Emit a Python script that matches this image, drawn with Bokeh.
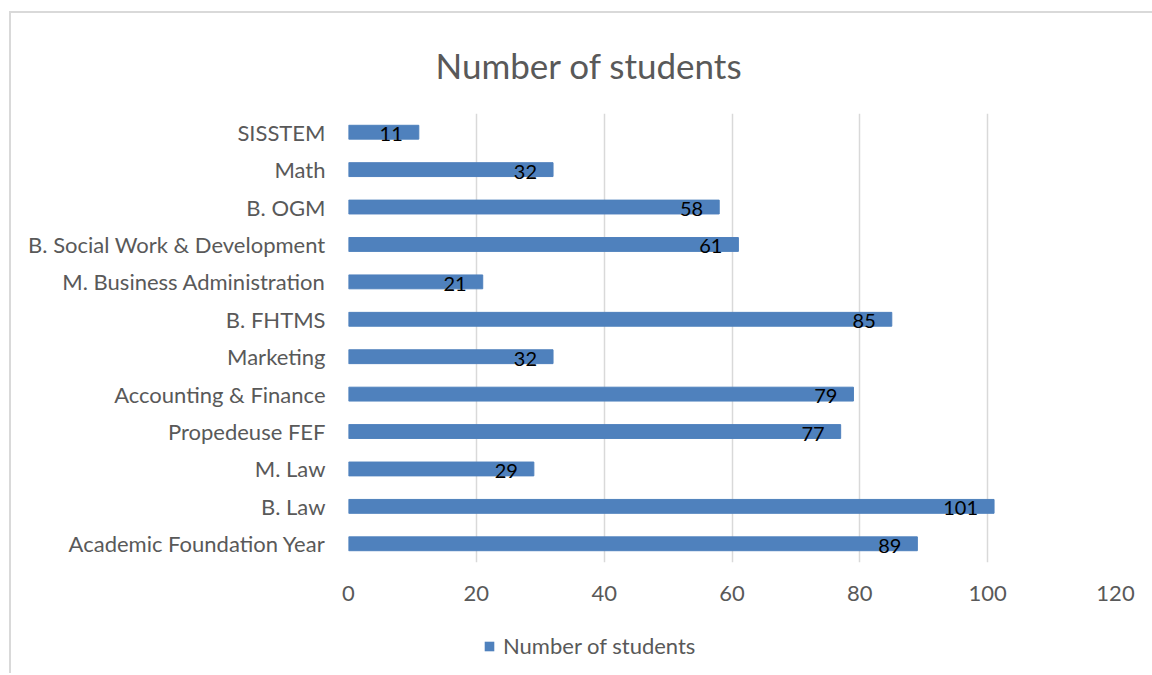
from bokeh.plotting import figure
from bokeh.layouts import column
from bokeh.models import ColumnDataSource, FactorRange, LabelSet, Legend, LegendItem, Range1d
from bokeh.core.properties import value
from bokeh.embed import file_html
from bokeh.resources import INLINE

categories = ["Academic Foundation Year", "B. Law", "M. Law", "Propedeuse FEF",
              "Accounting & Finance", "Marketing", "B. FHTMS", "M. Business Administration",
              "B. Social Work & Development", "B. OGM", "Math", "SISSTEM"]
students = [89, 101, 29, 77, 79, 32, 85, 21, 61, 58, 32, 11]
x_ticks = [0, 20, 40, 60, 80, 100, 120]
series_name = "Number of students"

FONT = "Lato"
GRAY = "#595959"
BLUE = "#4F81BD"

src = ColumnDataSource(dict(cat=categories, val=students, lab=[str(v) for v in students]))

p = figure(width=1141, height=610, y_range=FactorRange(*categories), x_range=Range1d(0, 120),
           output_backend="svg", toolbar_location=None,
           min_border_left=337, min_border_right=37, min_border_top=99, min_border_bottom=61)
p.outline_line_color = None

p.title.text = series_name
p.title.text_font = FONT
p.title.text_font_size = "35px"
p.title.text_font_style = "normal"
p.title.text_color = GRAY
p.title.align = "left"
p.title.offset = 87
p.title.standoff = 56

r = p.hbar(y="cat", right="val", height=0.37, left=0, source=src, color=BLUE)

labels = LabelSet(x="val", y="cat", text="lab", source=src, x_offset=-16, y_offset=-2,
                  text_align="right", text_baseline="middle", text_font=value(FONT),
                  text_font_size="20px", text_color="black")
p.add_layout(labels)

p.xaxis.ticker = x_ticks
p.xaxis.axis_line_color = None
p.xaxis.major_tick_line_color = None
p.xaxis.minor_tick_line_color = None
p.xaxis.major_label_standoff = 17
p.xaxis.major_label_text_font = FONT
p.xaxis.major_label_text_font_size = "22px"
p.xaxis.major_label_text_color = GRAY

p.yaxis.axis_line_color = None
p.yaxis.major_tick_line_color = None
p.yaxis.minor_tick_line_color = None
p.yaxis.major_label_standoff = 17
p.yaxis.major_label_text_font = FONT
p.yaxis.major_label_text_font_size = "22px"
p.yaxis.major_label_text_color = GRAY

p.xgrid.grid_line_color = "#d9d9d9"
p.xgrid.grid_line_width = 1.5
p.ygrid.grid_line_color = None

# legend strip below the chart (its frame is aligned with the main frame)
lp = figure(width=1141, height=50, y_range=FactorRange(*categories), x_range=Range1d(0, 120),
            output_backend="svg", toolbar_location=None,
            min_border_left=0, min_border_right=0, min_border_top=0, min_border_bottom=0)
lp.axis.visible = False
lp.grid.visible = False
lp.outline_line_color = None
lr = lp.hbar(y="cat", right="val", height=0, left=0, source=src,
             fill_color=BLUE, line_color=None)
legend = Legend(items=[LegendItem(label=series_name, renderers=[lr])],
                location=(135, 14), orientation="horizontal", padding=0, margin=0,
                border_line_color=None, background_fill_alpha=0,
                label_text_font=FONT, label_text_font_size="22px", label_text_color=GRAY,
                glyph_width=12, glyph_height=12, label_standoff=8)
lp.add_layout(legend, "center")

layout = column(p, lp, spacing=0)
layout.styles = {"border-top": "2px solid #d9d9d9", "border-left": "2px solid #d9d9d9",
                 "margin-left": "9px", "margin-top": "11px"}

open("out.html", "w").write(file_html(layout, INLINE))
